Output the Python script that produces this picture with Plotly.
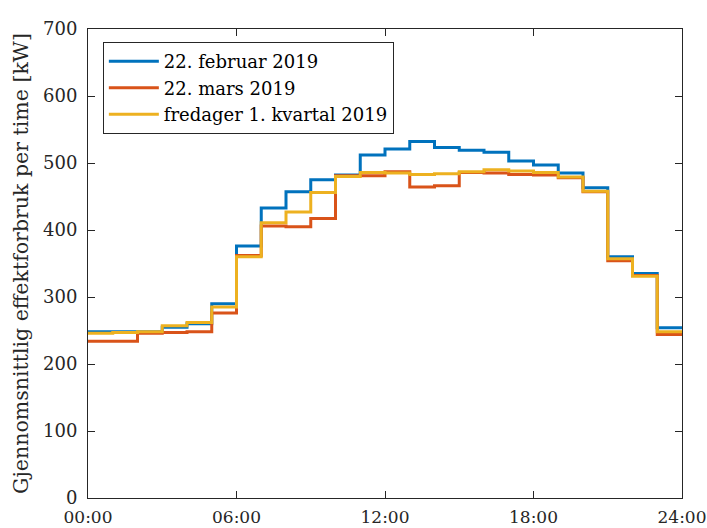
import plotly.graph_objects as go

# Hourly average power (kW), hour 0..23
hours = list(range(25))
feb_22 = [248, 248, 248, 255, 260, 290, 376, 433, 457, 475, 482, 512, 521, 532,
          523, 519, 516, 503, 497, 485, 463, 360, 335, 254]
mar_22 = [234, 234, 246, 247, 248, 276, 362, 406, 405, 417, 481, 481, 487, 464,
          466, 486, 485, 483, 482, 478, 457, 354, 332, 244]
fridays_q1 = [246, 247, 248, 257, 262, 285, 360, 411, 427, 456, 480, 486, 485, 483,
              484, 487, 490, 488, 486, 479, 458, 357, 331, 248]

tick_vals = [0, 6, 12, 18, 24]
tick_text = ["00:00", "06:00", "12:00", "18:00", "24:00"]

series = [
    ("22. februar 2019", feb_22, "#0072BD"),
    ("22. mars 2019", mar_22, "#D95319"),
    ("fredager 1. kvartal 2019", fridays_q1, "#EDB120"),
]

FONT = "DejaVu Serif"
AX = "#262626"

fig = go.Figure()
for name, vals, color in series:
    # repeat last value so the final hour is drawn as a full step
    fig.add_trace(go.Scatter(
        x=hours, y=vals + [vals[-1]], mode="lines", name=name,
        line=dict(color=color, width=3, shape="hv"),
    ))

fig.update_layout(
    width=707, height=528,
    margin=dict(l=88, r=25, t=29, b=30),
    paper_bgcolor="white", plot_bgcolor="white",
    font=dict(family=FONT, size=18, color=AX),
    showlegend=True,
    legend=dict(
        x=0.025, y=0.972, xanchor="left", yanchor="top",
        bgcolor="white", bordercolor=AX, borderwidth=1,
        font=dict(family=FONT, size=18, color="black"),
        tracegroupgap=0, itemwidth=50,
    ),
)
fig.update_xaxes(
    range=[0, 24], tickvals=tick_vals, ticktext=tick_text,
    automargin=False, ticklabeloverflow="allow",
    showgrid=False, zeroline=False,
    showline=True, linecolor=AX, linewidth=1, mirror="ticks",
    ticks="inside", ticklen=7, tickcolor=AX, ticklabelstandoff=4,
    tickfont=dict(family=FONT, size=17, color=AX),
)
fig.update_yaxes(
    range=[0, 700], dtick=100,
    automargin=False, ticklabeloverflow="allow",
    showgrid=False, zeroline=False,
    showline=True, linecolor=AX, linewidth=1, mirror="ticks",
    ticks="inside", ticklen=7, tickcolor=AX, ticklabelstandoff=6,
    tickfont=dict(family=FONT, size=18, color=AX),
    title=dict(text="Gjennomsnittlig effektforbruk per time [kW]",
               font=dict(family=FONT, size=20.5, color=AX), standoff=8),
)

fig.write_html("out.html")
